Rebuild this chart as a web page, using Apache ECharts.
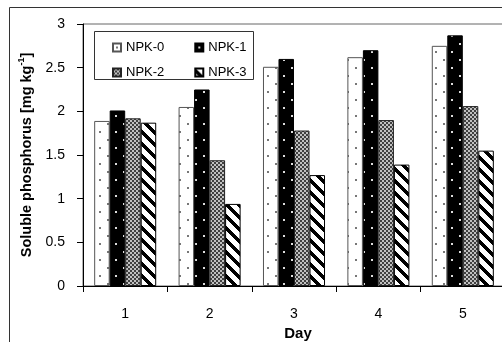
<!DOCTYPE html>
<html>
<head>
<meta charset="utf-8">
<script src="https://cdn.jsdelivr.net/npm/echarts@6/dist/echarts.min.js"></script>
<style>html,body{margin:0;padding:0;background:#fff;}#c{width:502px;height:342px;}</style>
</head>
<body>
<div id="c"></div>
<script>
var days = ['1', '2', '3', '4', '5'];
var seriesNames = ['NPK-0', 'NPK-1', 'NPK-2', 'NPK-3'];
var npk0 = [1.89, 2.05, 2.51, 2.62, 2.75];
var npk1 = [2.01, 2.25, 2.60, 2.70, 2.87];
var npk2 = [1.92, 1.44, 1.78, 1.90, 2.06];
var npk3 = [1.87, 0.94, 1.27, 1.39, 1.55];
var yTicks = [0, 0.5, 1, 1.5, 2, 2.5, 3];

function makeTile(w, h, draw) {
  var c = document.createElement('canvas');
  c.width = w; c.height = h;
  var ctx = c.getContext('2d');
  draw(ctx, w, h);
  return c;
}
var patWhiteDots = makeTile(16, 16, function (ctx) {
  ctx.fillStyle = '#fff'; ctx.fillRect(0, 0, 16, 16);
  ctx.fillStyle = '#777';
  ctx.fillRect(3, 3, 2, 2); ctx.fillRect(11, 11, 2, 2);
});
var patBlackDots = makeTile(16, 16, function (ctx) {
  ctx.fillStyle = '#000'; ctx.fillRect(0, 0, 16, 16);
  ctx.fillStyle = '#ddd';
  ctx.fillRect(3, 3, 2, 2); ctx.fillRect(11, 11, 2, 2);
});
var patChecker = makeTile(4, 4, function (ctx) {
  ctx.fillStyle = '#c0c0c0'; ctx.fillRect(0, 0, 4, 4);
  ctx.fillStyle = '#404040';
  ctx.fillRect(0, 0, 2, 2); ctx.fillRect(2, 2, 2, 2);
});
var patStripes = makeTile(12, 12, function (ctx) {
  var img = ctx.createImageData(12, 12);
  for (var y = 0; y < 12; y++) {
    for (var x = 0; x < 12; x++) {
      var d = ((y - x) % 12 + 12) % 12;
      var v = d < 5 ? 0 : 255;
      var i = (y * 12 + x) * 4;
      img.data[i] = v; img.data[i + 1] = v; img.data[i + 2] = v; img.data[i + 3] = 255;
    }
  }
  ctx.putImageData(img, 0, 0);
});

var values = [npk0, npk1, npk2, npk3];
var fills = [patWhiteDots, patBlackDots, patChecker, patStripes];
var borders = ['#555', '#000', '#222', '#000'];

var series = seriesNames.map(function (n, i) {
  return {
    name: n,
    type: 'bar',
    data: values[i],
    barGap: '0%',
    barCategoryGap: '26.5%',
    itemStyle: {
      color: { image: fills[i], repeat: 'repeat' },
      borderColor: borders[i],
      borderWidth: 1
    },
    emphasis: { disabled: true },
    animation: false
  };
});

var legendText = { fontSize: 13, color: '#000', fontFamily: 'Liberation Sans, Arial, sans-serif' };

var chart = echarts.init(document.getElementById('c'), null, { renderer: 'canvas' });
chart.setOption({
  animation: false,
  backgroundColor: '#fff',
  textStyle: { fontFamily: 'Liberation Sans, Arial, sans-serif' },
  grid: {
    left: 83, top: 24, width: 422, height: 262,
    containLabel: false,
    outerBoundsMode: 'none',
    show: true, borderColor: '#666', borderWidth: 1, backgroundColor: 'transparent'
  },
  graphic: [
    { type: 'polyline', z: 0, shape: { points: [[9.5, 345], [9.5, 7.5], [505, 7.5]] },
      style: { stroke: '#333', lineWidth: 1, fill: null } },
    { type: 'rect', z: 1, shape: { x: 94.5, y: 31.5, width: 159, height: 48 },
      style: { stroke: '#333', lineWidth: 1, fill: '#fff' } }
  ],
  legend: [
    {
      data: ['NPK-0', 'NPK-1'], left: 107, top: 36, itemWidth: 8, itemHeight: 8, itemGap: 30,
      icon: 'rect', z: 5, textStyle: legendText
    },
    {
      data: ['NPK-2', 'NPK-3'], left: 107, top: 61, itemWidth: 8, itemHeight: 8, itemGap: 30,
      icon: 'rect', z: 5, textStyle: legendText
    }
  ],
  xAxis: {
    type: 'category',
    data: days,
    name: 'Day',
    nameLocation: 'middle',
    nameGap: 39,
    nameTextStyle: { fontSize: 15, fontWeight: 'bold', color: '#000', padding: [0, 0, 0, 8] },
    axisLine: { lineStyle: { color: '#000', width: 1 } },
    axisTick: { show: true, length: 6, lineStyle: { color: '#000' } },
    axisLabel: { fontSize: 14, color: '#000', margin: 21 },
    splitLine: { show: false }
  },
  yAxis: {
    type: 'value',
    min: yTicks[0], max: yTicks[yTicks.length - 1], interval: 0.5,
    name: '{a|Soluble phosphorus [mg kg}{sup|-1}{a|]}',
    nameLocation: 'middle',
    nameRotate: 90,
    nameGap: 42,
    nameTextStyle: {
      fontSize: 14.5, fontWeight: 'bold', color: '#000',
      rich: {
        a: { fontSize: 14.5, fontWeight: 'bold', color: '#000', lineHeight: 20 },
        sup: { fontSize: 9, fontWeight: 'bold', color: '#000', verticalAlign: 'top', lineHeight: 8 }
      }
    },
    axisLine: { show: true, lineStyle: { color: '#000', width: 1 } },
    axisTick: { show: true, length: 6, lineStyle: { color: '#000' } },
    axisLabel: { fontSize: 14, color: '#000', margin: 18 },
    splitLine: { show: false }
  },
  series: series
});
</script>
</body>
</html>
